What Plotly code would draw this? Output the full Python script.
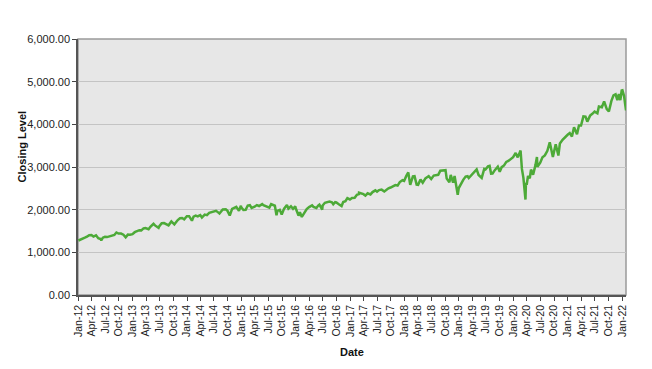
import plotly.graph_objects as go

dates = [
 "2012-01-03","2012-01-17","2012-01-31","2012-02-15","2012-02-29","2012-03-15","2012-03-30","2012-04-13","2012-04-30","2012-05-15","2012-05-31","2012-06-04","2012-06-15","2012-06-29","2012-07-13","2012-07-31","2012-08-15","2012-08-31","2012-09-14","2012-09-28","2012-10-15","2012-10-31","2012-11-15","2012-11-30","2012-12-14","2012-12-31",
 "2013-01-15","2013-01-31","2013-02-15","2013-02-28","2013-03-15","2013-03-28","2013-04-18","2013-04-30","2013-05-21","2013-05-31","2013-06-24","2013-06-28","2013-07-15","2013-07-31","2013-08-15","2013-08-30","2013-09-18","2013-09-30","2013-10-08","2013-10-31","2013-11-15","2013-11-29","2013-12-13","2013-12-31",
 "2014-01-15","2014-02-03","2014-02-14","2014-02-28","2014-03-14","2014-03-31","2014-04-11","2014-04-30","2014-05-15","2014-05-30","2014-06-13","2014-06-30","2014-07-15","2014-07-31","2014-08-07","2014-08-29","2014-09-18","2014-09-30","2014-10-15","2014-10-31","2014-11-14","2014-11-28","2014-12-16","2014-12-29","2014-12-31",
 "2015-01-15","2015-01-30","2015-02-13","2015-02-27","2015-03-11","2015-03-31","2015-04-15","2015-04-30","2015-05-21","2015-05-29","2015-06-15","2015-06-30","2015-07-08","2015-07-20","2015-07-31","2015-08-14","2015-08-25","2015-08-31","2015-09-16","2015-09-29","2015-10-15","2015-11-03","2015-11-13","2015-11-30","2015-12-14","2015-12-29","2015-12-31",
 "2016-01-20","2016-01-29","2016-02-11","2016-02-29","2016-03-15","2016-03-31","2016-04-20","2016-04-29","2016-05-19","2016-05-31","2016-06-08","2016-06-27","2016-06-30","2016-07-15","2016-07-29","2016-08-15","2016-08-31","2016-09-09","2016-09-22","2016-09-30","2016-10-14","2016-11-04","2016-11-15","2016-11-30","2016-12-13","2016-12-30",
 "2017-01-13","2017-01-31","2017-02-15","2017-02-28","2017-03-01","2017-03-15","2017-03-31","2017-04-13","2017-04-28","2017-05-17","2017-05-31","2017-06-19","2017-06-30","2017-07-14","2017-07-31","2017-08-18","2017-08-31","2017-09-15","2017-09-29","2017-10-16","2017-10-31","2017-11-15","2017-11-30","2017-12-18","2017-12-29",
 "2018-01-12","2018-01-26","2018-02-08","2018-02-26","2018-03-09","2018-03-23","2018-04-02","2018-04-18","2018-05-03","2018-05-21","2018-06-12","2018-06-29","2018-07-16","2018-07-31","2018-08-15","2018-08-29","2018-09-20","2018-10-03","2018-10-11","2018-10-29","2018-11-07","2018-11-23","2018-12-03","2018-12-14","2018-12-24","2018-12-31",
 "2019-01-15","2019-01-31","2019-02-15","2019-02-28","2019-03-08","2019-03-29","2019-04-15","2019-04-30","2019-05-13","2019-05-31","2019-06-03","2019-06-20","2019-06-28","2019-07-15","2019-07-26","2019-08-05","2019-08-15","2019-08-30","2019-09-19","2019-10-02","2019-10-15","2019-10-31","2019-11-15","2019-11-29","2019-12-16","2019-12-31",
 "2020-01-17","2020-01-31","2020-02-19","2020-02-28","2020-03-09","2020-03-16","2020-03-23","2020-03-26","2020-03-31","2020-04-09","2020-04-21","2020-04-29","2020-05-13","2020-05-29","2020-06-08","2020-06-11","2020-06-30","2020-07-15","2020-07-31","2020-08-17","2020-09-02","2020-09-23","2020-10-12","2020-10-30","2020-11-09","2020-11-27","2020-12-17","2020-12-31",
 "2021-01-14","2021-01-29","2021-02-12","2021-03-04","2021-03-17","2021-03-31","2021-04-16","2021-04-30","2021-05-12","2021-05-31","2021-06-15","2021-06-30","2021-07-19","2021-07-29","2021-08-18","2021-08-31","2021-09-02","2021-09-20","2021-09-30","2021-10-04","2021-10-21","2021-11-04","2021-11-18","2021-11-30","2021-12-10","2021-12-20","2021-12-29",
 "2022-01-03","2022-01-14","2022-01-27",
]

closing = [
 1277,1293,1312,1343,1366,1403,1408,1370,1398,1330,1310,1278,1343,1362,1357,1379,1405,1406,1465,1441,1440,1412,1353,1416,1413,1426,
 1472,1498,1519,1515,1561,1569,1541,1597,1669,1631,1573,1606,1682,1686,1661,1633,1725,1682,1656,1757,1798,1806,1775,1848,
 1848,1742,1838,1859,1841,1872,1816,1884,1870,1924,1937,1960,1973,1931,1910,2003,2011,1972,1862,2018,2039,2068,1973,2091,2059,
 1992,1995,2097,2105,2040,2068,2107,2086,2131,2107,2084,2063,2047,2128,2104,2092,1868,1972,1996,1884,2024,2109,2023,2080,2021,2078,2044,
 1859,1940,1829,1932,2016,2060,2102,2065,2040,2097,2119,2001,2099,2162,2174,2190,2171,2128,2177,2168,2133,2085,2180,2199,2271,2239,
 2274,2279,2349,2364,2396,2385,2363,2329,2384,2357,2412,2453,2423,2459,2470,2426,2472,2500,2519,2557,2575,2565,2648,2690,2674,
 2786,2873,2581,2780,2786,2588,2582,2708,2630,2733,2787,2718,2798,2816,2818,2914,2931,2926,2728,2641,2814,2633,2790,2600,2351,2507,
 2611,2704,2776,2784,2743,2834,2906,2946,2812,2752,2744,2954,2942,3014,3026,2845,2848,2926,3006,2888,2996,3038,3120,3141,3191,3231,
 3330,3226,3386,2954,2747,2386,2237,2630,2585,2790,2737,2940,2820,3044,3232,3002,3100,3227,3271,3381,3580,3237,3534,3270,3550,3638,3722,3756,
 3795,3714,3934,3768,3974,3973,4185,4181,4063,4204,4246,4298,4258,4419,4400,4523,4537,4358,4308,4300,4549,4680,4704,4567,4712,4568,4793,
 4797,4663,4326,
]

tick_dates = [f"{y}-{m:02d}-01" for y in range(2012, 2022) for m in (1, 4, 7, 10)] + ["2022-01-01"]
tick_labels = [f"{mon}-{str(y)[2:]}" for y in range(2012, 2022) for mon in ("Jan", "Apr", "Jul", "Oct")] + ["Jan-22"]
y_ticks = [0, 1000, 2000, 3000, 4000, 5000, 6000]

fig = go.Figure()
fig.add_trace(go.Scatter(x=dates, y=closing, mode="lines",
                         line=dict(color="#4DAA38", width=2.5), hoverinfo="skip"))

FAM = "Liberation Sans, Arial, sans-serif"
font = dict(family=FAM, size=11, color="#222222")
xfont = dict(family=FAM, size=10.5, color="#222222")
fig.update_layout(
    width=644, height=361,
    margin=dict(l=70, r=26, t=31, b=74),
    paper_bgcolor="white", plot_bgcolor="#E7E7E7",
    showlegend=False, font=font,
    xaxis=dict(range=["2011-12-31", "2022-01-27"], tickmode="array",
               tickvals=tick_dates, ticktext=tick_labels, tickangle=-90,
               ticks="outside", ticklen=4, tickcolor="#444", showgrid=False,
               showline=True, linecolor="#555", linewidth=1.5, zeroline=False,
               tickfont=xfont),
    yaxis=dict(range=[0, 6000], tickmode="array", tickvals=y_ticks,
               tickformat=",.2f", ticks="outside", ticklen=4, tickcolor="#444",
               showgrid=True, gridcolor="#C4C4C4", gridwidth=1,
               showline=True, linecolor="#555", linewidth=1.5, zeroline=False,
               tickfont=font),
    annotations=[
        dict(text="<b>Date</b>", xref="paper", yref="paper", x=0.5, y=-0.254,
             showarrow=False, font=dict(family=FAM, size=11, color="#111")),
        dict(text="<b>Closing Level</b>", xref="paper", yref="paper", x=-0.117, y=0.58,
             textangle=-90, showarrow=False, font=dict(family=FAM, size=11, color="#111")),
    ],
    shapes=[dict(type="rect", xref="paper", yref="paper", x0=0, y0=0, x1=1, y1=1,
                 line=dict(color="#9A9A9A", width=1.5), layer="below")],
)
fig.write_html("out.html")
